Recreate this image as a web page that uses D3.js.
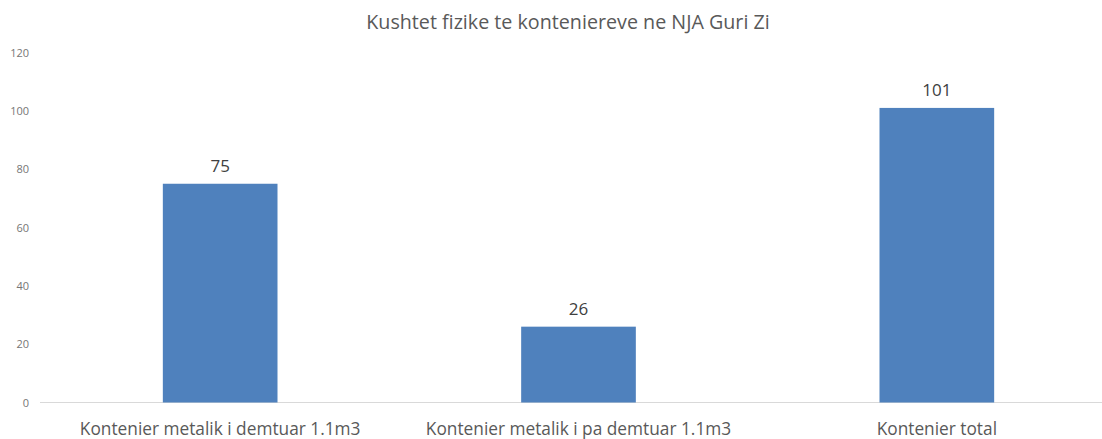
<!DOCTYPE html>
<html>
<head>
<meta charset="utf-8">
<script src="https://cdn.jsdelivr.net/npm/d3@7"></script>
<style>
  body { margin: 0; background: #fff; }
  text { font-family: "Open Sans", sans-serif; }
</style>
</head>
<body>
<svg id="chart"></svg>
<script>
const categories = ["Kontenier metalik i demtuar 1.1m3", "Kontenier metalik i pa demtuar 1.1m3", "Kontenier total"];
const values = [75, 26, 101];
const yTicks = [0, 20, 40, 60, 80, 100, 120];
const title = "Kushtet fizike te konteniereve ne NJA Guri Zi";

const w = 1102;
const h = 439;

const svg = d3.select("#chart").attr("width", w).attr("height", h);

const xScale = d3.scaleBand()
  .domain(categories)
  .range([41, 1116])
  .paddingInner(0.68)
  .paddingOuter(0.34);

const yScale = d3.scaleLinear()
  .domain([0, 120])
  .range([402.5, 52.5]);

// title
svg.append("text")
  .attr("x", 568)
  .attr("y", 29)
  .attr("text-anchor", "middle")
  .attr("font-size", 19.7)
  .attr("fill", "#595959")
  .text(title);

// y axis labels, no line
const yAxis = d3.axisLeft(yScale).tickValues(yTicks).tickSize(0).tickPadding(0);
const yg = svg.append("g").attr("transform", "translate(29,0)").call(yAxis);
yg.select(".domain").remove();
yg.selectAll("text")
  .attr("font-size", 11)
  .attr("fill", "#767676")
  .style("font-family", "'Open Sans', sans-serif");

// baseline
svg.append("line")
  .attr("x1", 40)
  .attr("x2", w)
  .attr("y1", yScale(0))
  .attr("y2", yScale(0))
  .attr("stroke", "#d9d9d9")
  .attr("stroke-width", 1);

// bars
svg.selectAll(".bar")
  .data(values)
  .enter()
  .append("rect")
  .attr("class", "bar")
  .attr("x", (d, i) => xScale(categories[i]))
  .attr("y", (d) => yScale(d))
  .attr("width", xScale.bandwidth())
  .attr("height", (d) => yScale(0) - yScale(d))
  .attr("fill", "#4f81bd");

// value labels
svg.selectAll(".val")
  .data(values)
  .enter()
  .append("text")
  .attr("class", "val")
  .attr("x", (d, i) => xScale(categories[i]) + xScale.bandwidth() / 2)
  .attr("y", (d) => yScale(d) - 12)
  .attr("text-anchor", "middle")
  .attr("font-size", 17)
  .attr("fill", "#404040")
  .text((d) => d);

// category labels
const xAxis = d3.axisBottom(xScale).tickSize(0).tickPadding(0);
const xg = svg.append("g").attr("transform", "translate(0,434.5)").call(xAxis);
xg.select(".domain").remove();
xg.selectAll("text")
  .attr("dy", 0)
  .attr("font-size", 17.3)
  .attr("fill", "#595959")
  .style("font-family", "'Open Sans', sans-serif");
</script>
</body>
</html>
